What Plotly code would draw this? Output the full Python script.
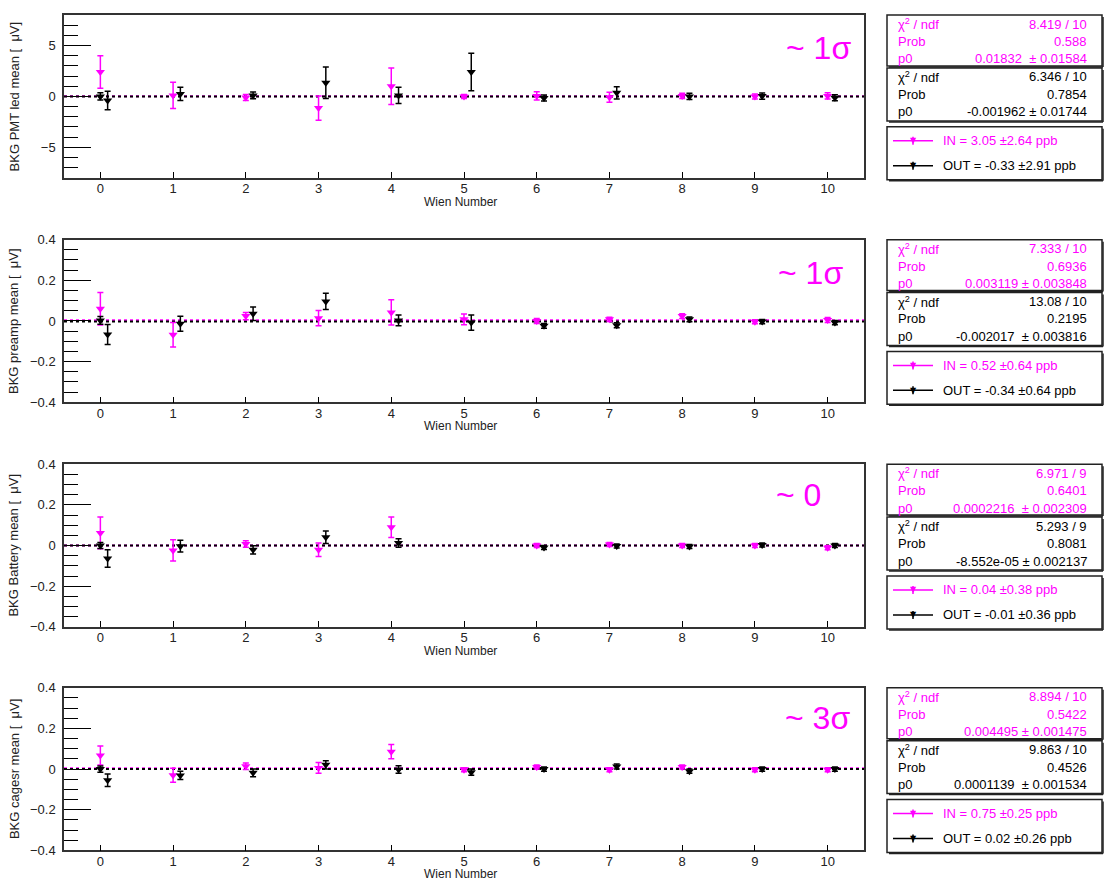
import plotly.graph_objects as go

W, H = 1112, 887

wien = [0, 1, 2, 3, 4, 5, 6, 7, 8, 9, 10]
out_offset = 0.1

NB = "\u00a0"
titles = ["BKG PMT led mean [" + NB + NB + "\u03bcV]", "BKG preamp mean [" + NB + NB + "\u03bcV]",
          "BKG Battery mean [" + NB + NB + "\u03bcV]", "BKG cagesr mean [" + NB + NB + "\u03bcV]"]
sigma_labels = ["~ 1\u03c3", "~ 1\u03c3", "~ 0", "~ 3\u03c3"]

# Panel 1: PMT led
p1_in = [2.4, 0.1, -0.1, -1.15, 1.0, 0.0, 0.05, -0.08, 0.05, 0.0, 0.05]
p1_in_err = [1.6, 1.3, 0.3, 1.2, 1.8, 0.2, 0.4, 0.5, 0.25, 0.25, 0.3]
p1_out = [-0.4, 0.25, 0.1, 1.35, 0.1, 2.4, -0.16, 0.35, 0.0, 0.03, -0.13]
p1_out_err = [0.9, 0.65, 0.33, 1.55, 0.8, 1.85, 0.3, 0.6, 0.3, 0.3, 0.3]

# Panel 2: preamp
p2_in = [0.06, -0.068, 0.024, 0.014, 0.042, 0.008, 0.0, 0.008, 0.024, -0.004, 0.005]
p2_in_err = [0.08, 0.06, 0.018, 0.038, 0.062, 0.026, 0.012, 0.01, 0.012, 0.01, 0.012]
p2_out = [-0.066, -0.014, 0.036, 0.096, 0.003, -0.008, -0.024, -0.021, 0.008, -0.003, -0.008]
p2_out_err = [0.049, 0.037, 0.033, 0.04, 0.026, 0.038, 0.012, 0.012, 0.012, 0.01, 0.01]

# Panel 3: Battery (no run at Wien 5)
p3_x = [0, 1, 2, 3, 4, 6, 7, 8, 9, 10]
p3_in = [0.062, -0.024, 0.008, -0.021, 0.09, 0.0, 0.005, 0.0, 0.0, -0.011]
p3_in_err = [0.078, 0.052, 0.016, 0.033, 0.05, 0.01, 0.01, 0.01, 0.01, 0.01]
p3_out = [-0.064, -0.003, -0.021, 0.041, 0.013, -0.01, -0.002, -0.005, 0.003, 0.0]
p3_out_err = [0.043, 0.029, 0.02, 0.031, 0.021, 0.01, 0.01, 0.01, 0.01, 0.01]

# Panel 4: cagesr
p4_in = [0.067, -0.03, 0.014, 0.006, 0.086, -0.003, 0.01, -0.003, 0.01, -0.003, -0.003]
p4_in_err = [0.047, 0.034, 0.016, 0.026, 0.035, 0.01, 0.01, 0.01, 0.01, 0.01, 0.01]
p4_out = [-0.055, -0.031, -0.018, 0.021, -0.002, -0.015, 0.0, 0.013, -0.01, 0.0, 0.0]
p4_out_err = [0.031, 0.02, 0.019, 0.02, 0.018, 0.015, 0.01, 0.012, 0.01, 0.01, 0.01]

# lone black point drawn at Wien 0 in every panel
extra_y = [0.0, 0.003, 0.0, 0.0]
extra_err = [0.35, 0.019, 0.015, 0.015]

# fit results (constant p0)
p0_in = [0.01832, 0.003119, 0.0002216, 0.004495]
p0_out = [-0.001962, -0.002017, -8.552e-05, 0.0001139]

stats_in = [("8.419 / 10", "0.588", "0.01832" + NB + NB + "\u00b1 0.01584"),
            ("7.333 / 10", "0.6936", "0.003119 \u00b1 0.003848"),
            ("6.971 / 9", "0.6401", "0.0002216" + NB + NB + "\u00b1 0.002309"),
            ("8.894 / 10", "0.5422", "0.004495 \u00b1 0.001475")]
stats_out = [("6.346 / 10", "0.7854", "-0.001962 \u00b1 0.01744"),
             ("13.08 / 10", "0.2195", "-0.002017" + NB + NB + "\u00b1 0.003816"),
             ("5.293 / 9", "0.8081", "-8.552e-05 \u00b1 0.002137"),
             ("9.863 / 10", "0.4526", "0.0001139" + NB + NB + "\u00b1 0.001534")]
legend_in = ["IN = 3.05 \u00b12.64 ppb", "IN = 0.52 \u00b10.64 ppb",
             "IN = 0.04 \u00b10.38 ppb", "IN = 0.75 \u00b10.25 ppb"]
legend_out = ["OUT = -0.33 \u00b12.91 ppb", "OUT = -0.34 \u00b10.64 ppb",
              "OUT = -0.01 \u00b10.36 ppb", "OUT = 0.02 \u00b10.26 ppb"]

xs_in = [wien, wien, p3_x, wien]
ys_in = [p1_in, p2_in, p3_in, p4_in]
es_in = [p1_in_err, p2_in_err, p3_in_err, p4_in_err]
ys_out = [p1_out, p2_out, p3_out, p4_out]
es_out = [p1_out_err, p2_out_err, p3_out_err, p4_out_err]

yranges = [(-8, 8), (-0.4, 0.4), (-0.4, 0.4), (-0.4, 0.4)]
ymajor = [5, 0.2, 0.2, 0.2]
yminor = [1, 0.05, 0.05, 0.05]

MAG = "#FF00FF"
FONT = "Liberation Sans, Arial, sans-serif"

# layout geometry (target pixels in the photographed page)
plot_left, plot_right = 64, 864
plot_tops = [14, 239, 464, 688]
plot_h = 163
sigma_right = [853, 845, 823, 852]
sigma_dy = [33, 33, 31, 30]

def px(x):
    return x / W

def py(y):
    # vertical calibration: the photographed page appears slightly squeezed
    yf = (y - 5.9) / 0.985
    return 1 - yf / H

fig = go.Figure()
shapes = []
annotations = []

for i in range(4):
    n = "" if i == 0 else str(i + 1)
    xa, ya = "x" + n, "y" + n
    top = plot_tops[i]
    bot = top + plot_h

    # fit lines
    fig.add_trace(go.Scatter(x=[-0.5, 10.5], y=[p0_in[i], p0_in[i]], mode="lines",
                             line=dict(color=MAG, width=2, dash="dot"),
                             xaxis=xa, yaxis=ya, showlegend=False, hoverinfo="skip"))
    fig.add_trace(go.Scatter(x=[-0.5, 10.5], y=[p0_out[i], p0_out[i]], mode="lines",
                             line=dict(color="black", width=2, dash="dot"),
                             xaxis=xa, yaxis=ya, showlegend=False, hoverinfo="skip"))
    # IN data
    fig.add_trace(go.Scatter(x=xs_in[i], y=ys_in[i], mode="markers",
                             marker=dict(symbol="triangle-down", size=8, color=MAG),
                             error_y=dict(type="data", array=es_in[i], color=MAG,
                                          thickness=1.5, width=3),
                             xaxis=xa, yaxis=ya, showlegend=False))
    # OUT data
    fig.add_trace(go.Scatter(x=[v + out_offset for v in xs_in[i]], y=ys_out[i], mode="markers",
                             marker=dict(symbol="triangle-down", size=8, color="black"),
                             error_y=dict(type="data", array=es_out[i], color="black",
                                          thickness=1.5, width=3),
                             xaxis=xa, yaxis=ya, showlegend=False))
    # extra black point at Wien 0
    fig.add_trace(go.Scatter(x=[wien[0]], y=[extra_y[i]], mode="markers",
                             marker=dict(symbol="triangle-down", size=8, color="black"),
                             error_y=dict(type="data", array=[extra_err[i]], color="black",
                                          thickness=1.5, width=3),
                             xaxis=xa, yaxis=ya, showlegend=False))

    dom_y = [py(bot), py(top)]
    fig.update_layout(**{
        ("xaxis" + n): dict(domain=[px(plot_left), px(plot_right)], range=[-0.5, 10.5],
                            anchor=ya, tickmode="array", tickvals=wien,
                            ticks="inside", ticklen=6, tickcolor="black",
                            showline=True, linecolor="#333", linewidth=1.5, mirror=True,
                            showgrid=False, zeroline=False, ticklabelstandoff=-2,
                            tickfont=dict(family=FONT, size=13, color="#222")),
        ("yaxis" + n): dict(domain=dom_y, range=list(yranges[i]), anchor=xa,
                            dtick=ymajor[i], tick0=0,
                            ticks="inside", ticklen=27, tickcolor="black", tickwidth=1.2,
                            minor=dict(dtick=yminor[i], tick0=0, ticks="inside", ticklen=14,
                                       tickcolor="black", tickwidth=1.2),
                            showline=True, linecolor="#333", linewidth=1.5, mirror=True,
                            showgrid=False, zeroline=False, ticklabelstandoff=4,
                            tickfont=dict(family=FONT, size=13, color="#222")),
    })

    # axis titles
    annotations.append(dict(x=px(460), y=py(bot + 24), xref="paper", yref="paper",
                            xanchor="center", yanchor="middle",
                            text="Wien Number", showarrow=False,
                            font=dict(family=FONT, size=12, color="#222")))
    annotations.append(dict(x=px(14), y=py(top + plot_h / 2), xref="paper", yref="paper",
                            xanchor="center", yanchor="middle",
                            text=titles[i], showarrow=False, textangle=-90,
                            font=dict(family=FONT, size=13, color="#222")))
    # sigma label
    annotations.append(dict(x=px(sigma_right[i]), y=py(top + sigma_dy[i]), xref="paper",
                            yref="paper", xanchor="right", yanchor="middle",
                            text=sigma_labels[i], showarrow=False,
                            font=dict(family=FONT, size=32, color=MAG)))

    # stats boxes
    bx0, bx1 = 887, 1102
    boxes = [(top, top + 51), (top + 53, top + 106), (top + 112, top + 165)]
    for (y0, y1) in boxes:
        shapes.append(dict(type="rect", xref="paper", yref="paper",
                           x0=px(bx0), x1=px(bx1), y0=py(y1), y1=py(y0),
                           line=dict(color="#222", width=1.5), fillcolor="white"))
        # shadow
        shapes.append(dict(type="line", xref="paper", yref="paper",
                           x0=px(bx0 + 2), x1=px(bx1 + 1), y0=py(y1 + 1), y1=py(y1 + 1),
                           line=dict(color="#222", width=1.5)))
        shapes.append(dict(type="line", xref="paper", yref="paper",
                           x0=px(bx1 + 1), x1=px(bx1 + 1), y0=py(y1 + 1), y1=py(y0 + 2),
                           line=dict(color="#222", width=1.5)))

    labels = ["\u03c7<sup>2</sup> / ndf", "Prob", "p0"]
    for k, (stats, color, y0) in enumerate([(stats_in[i], MAG, boxes[0][0]),
                                             (stats_out[i], "black", boxes[1][0])]):
        for r in range(3):
            yy = y0 + 9 + r * 17.5
            annotations.append(dict(x=px(896), y=py(yy), xref="paper", yref="paper",
                                    xanchor="left", yanchor="middle", text=labels[r],
                                    showarrow=False,
                                    font=dict(family=FONT, size=13, color=color)))
            annotations.append(dict(x=px(1089), y=py(yy), xref="paper", yref="paper",
                                    xanchor="right", yanchor="middle", text=stats[r],
                                    showarrow=False,
                                    font=dict(family=FONT, size=13, color=color)))
    # legend box content
    ly = [boxes[2][0] + 14, boxes[2][0] + 39]
    for txt, color, yy in [(legend_in[i], MAG, ly[0]), (legend_out[i], "black", ly[1])]:
        shapes.append(dict(type="line", xref="paper", yref="paper",
                           x0=px(893), x1=px(933), y0=py(yy), y1=py(yy),
                           line=dict(color=color, width=1.5)))
        shapes.append(dict(type="line", xref="paper", yref="paper",
                           x0=px(913), x1=px(913), y0=py(yy - 4), y1=py(yy + 4),
                           line=dict(color=color, width=1.5)))
        annotations.append(dict(x=px(913), y=py(yy), xref="paper", yref="paper",
                                xanchor="center", yanchor="middle", text="\u25bc",
                                showarrow=False, font=dict(family="DejaVu Sans", size=8, color=color)))
        annotations.append(dict(x=px(941), y=py(yy), xref="paper", yref="paper",
                                xanchor="left", yanchor="middle", text=txt, showarrow=False,
                                font=dict(family=FONT, size=13, color=color)))

fig.update_layout(width=W, height=H, margin=dict(l=0, r=0, t=0, b=0),
                  paper_bgcolor="white", plot_bgcolor="white",
                  shapes=shapes, annotations=annotations, showlegend=False,
                  font=dict(family=FONT))

fig.write_html("out.html")
